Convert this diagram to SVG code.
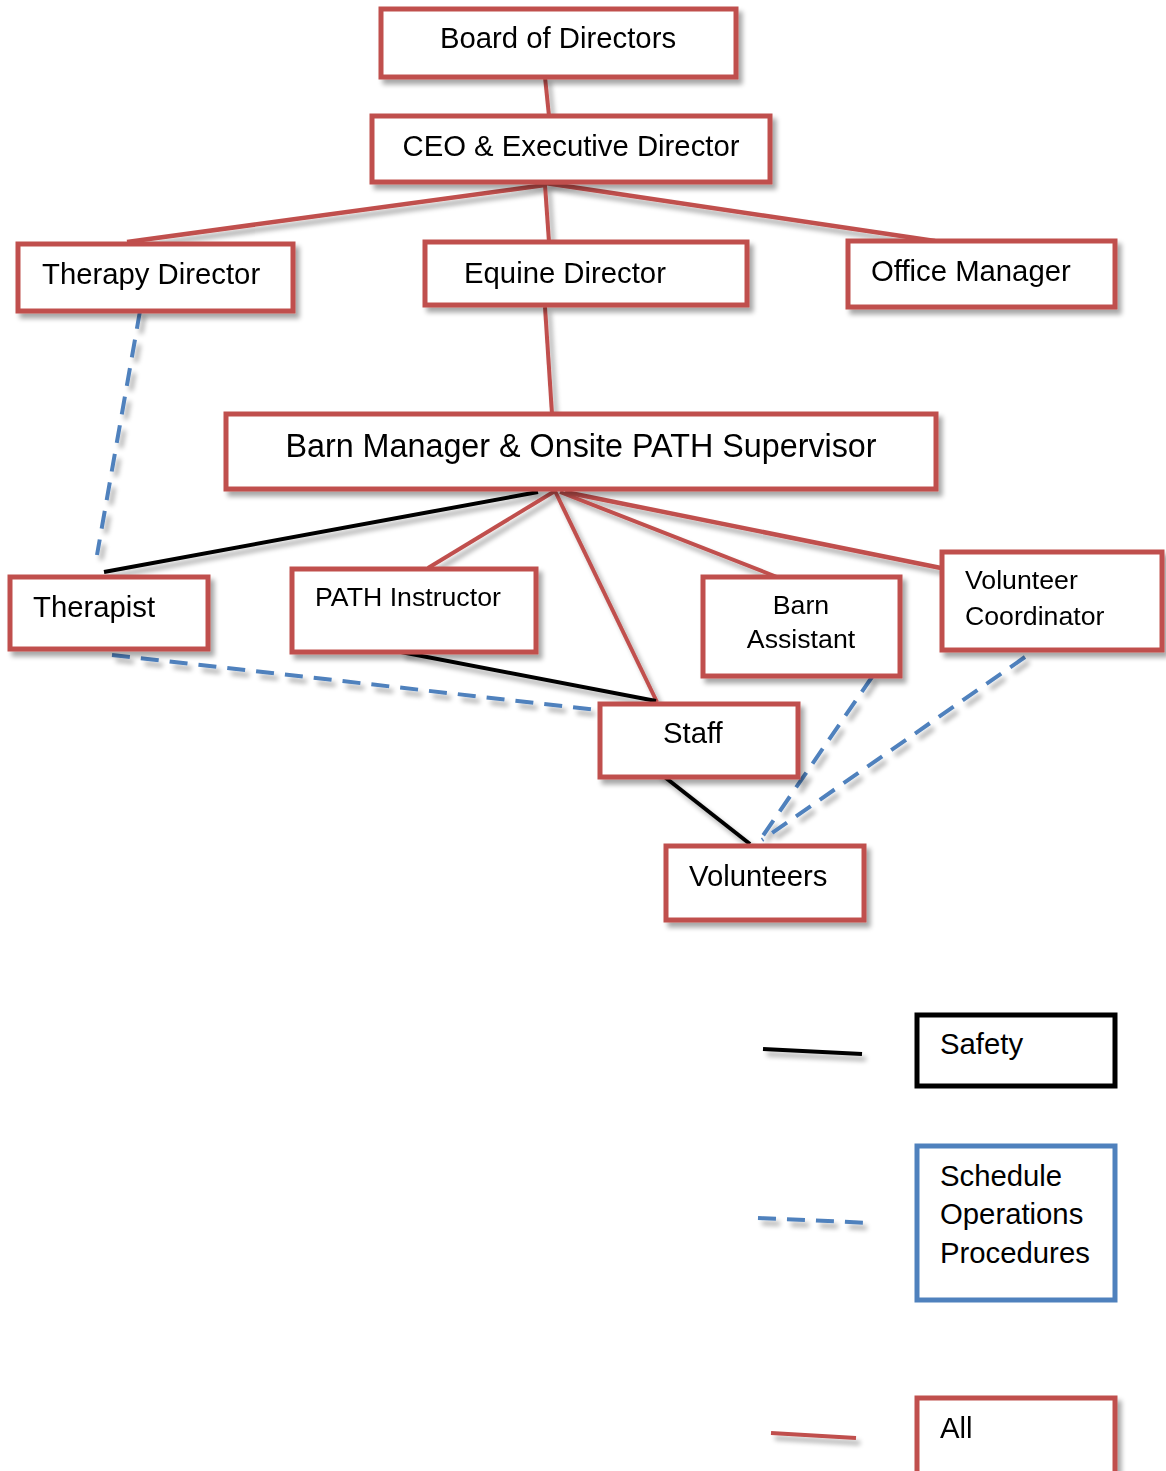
<svg xmlns="http://www.w3.org/2000/svg" width="1166" height="1471" viewBox="0 0 1166 1471">
<defs>
<filter id="sh" x="-10%" y="-20%" width="130%" height="150%">
<feGaussianBlur in="SourceAlpha" stdDeviation="2.5"/>
<feOffset dx="4" dy="5" result="b"/>
<feComponentTransfer><feFuncA type="linear" slope="0.35"/></feComponentTransfer>
<feMerge><feMergeNode/><feMergeNode in="SourceGraphic"/></feMerge>
</filter>
</defs>
<style>
.box{fill:#fff;stroke:#C0504D;stroke-width:5}
.kbox{fill:#fff;stroke:#000;stroke-width:5}
.bbox{fill:#fff;stroke:#4F81BD;stroke-width:5}
text{font-family:"Liberation Sans",Arial,sans-serif;font-size:29.3px;fill:#000}
.sm{font-size:26.7px}
.red{stroke:#C0504D;stroke-width:4;fill:none}
.blk{stroke:#000;stroke-width:4;fill:none}
.blu{stroke:#4F81BD;stroke-width:4;fill:none;stroke-dasharray:18 11}
</style>
<rect width="1166" height="1471" fill="#fff"/>
<g id="connectors" filter="url(#sh)">
<line class="red" x1="545" y1="77" x2="549" y2="116" stroke-width="3"/>
<line class="red" x1="545" y1="185" x2="127" y2="242" style="stroke-width:4.5"/>
<line class="red" x1="545" y1="185" x2="549" y2="242"/>
<line class="red" x1="545" y1="183" x2="935" y2="241" style="stroke-width:4.5"/>
<line class="red" x1="545" y1="307" x2="552" y2="414"/>
<line class="red" x1="555" y1="491" x2="428" y2="568"/>
<line class="red" x1="555" y1="491" x2="657" y2="702"/>
<line class="red" x1="560" y1="492" x2="777" y2="577"/>
<line class="red" x1="565" y1="492" x2="941" y2="568" style="stroke-width:4.5"/>
<line class="blk" x1="538" y1="492" x2="104" y2="572"/>
<line class="blk" x1="401" y1="652" x2="656" y2="701"/>
<line class="blk" x1="657" y1="771" x2="750" y2="844"/>
<line class="blu" x1="140" y1="311" x2="97" y2="555"/>
<line class="blu" x1="112" y1="655" x2="598" y2="710"/>
<line class="blu" x1="872" y1="677" x2="760" y2="840"/>
<line class="blu" x1="1025" y1="657" x2="762" y2="840"/>
<line class="blk" x1="763" y1="1049" x2="862" y2="1054"/>
<line class="blu" x1="758" y1="1218" x2="871" y2="1223"/>
<line class="red" x1="771" y1="1433" x2="856" y2="1438"/>
</g>
<g id="board" filter="url(#sh)"><rect class="box" x="381" y="9" width="355" height="68"/><text x="558" y="48" text-anchor="middle">Board of Directors</text></g>
<g id="ceo" filter="url(#sh)"><rect class="box" x="372" y="116" width="398" height="66"/><text x="571" y="156" text-anchor="middle">CEO &amp; Executive Director</text></g>
<g id="therapy-director" filter="url(#sh)"><rect class="box" x="18" y="244" width="275" height="67"/><text x="42" y="284">Therapy Director</text></g>
<g id="equine-director" filter="url(#sh)"><rect class="box" x="425" y="242" width="322" height="63"/><text x="464" y="283">Equine Director</text></g>
<g id="office-manager" filter="url(#sh)"><rect class="box" x="848" y="241" width="267" height="66"/><text x="871" y="281">Office Manager</text></g>
<g id="barn-manager" filter="url(#sh)"><rect class="box" x="226" y="414" width="710" height="75"/><text x="581" y="457" text-anchor="middle" style="font-size:32.3px">Barn Manager &amp; Onsite PATH Supervisor</text></g>
<g id="therapist" filter="url(#sh)"><rect class="box" x="10" y="577" width="198" height="72"/><text x="33" y="617">Therapist</text></g>
<g id="path-instructor" filter="url(#sh)"><rect class="box" x="292" y="569" width="244" height="83"/><text class="sm" x="315" y="606">PATH Instructor</text></g>
<g id="barn-assistant" filter="url(#sh)"><rect class="box" x="703" y="577" width="197" height="99"/><text class="sm" x="801" y="614" text-anchor="middle">Barn</text><text class="sm" x="801" y="648" text-anchor="middle">Assistant</text></g>
<g id="volunteer-coordinator" filter="url(#sh)"><rect class="box" x="942" y="552" width="220" height="98"/><text class="sm" x="965" y="589">Volunteer</text><text class="sm" x="965" y="625">Coordinator</text></g>
<g id="staff" filter="url(#sh)"><rect class="box" x="600" y="704" width="198" height="73"/><text x="663" y="743">Staff</text></g>
<g id="volunteers" filter="url(#sh)"><rect class="box" x="666" y="846" width="198" height="74"/><text x="689" y="886">Volunteers</text></g>
<g id="legend-safety"><rect class="kbox" x="917" y="1015" width="198" height="71"/><text x="940" y="1054">Safety</text></g>
<g id="legend-schedule"><rect class="bbox" x="917" y="1146" width="198" height="154"/><text x="940" y="1186">Schedule</text><text x="940" y="1224">Operations</text><text x="940" y="1263">Procedures</text></g>
<g id="legend-all" filter="url(#sh)"><rect class="box" x="917" y="1398" width="198" height="80"/><text x="940" y="1438">All</text></g>
</svg>
